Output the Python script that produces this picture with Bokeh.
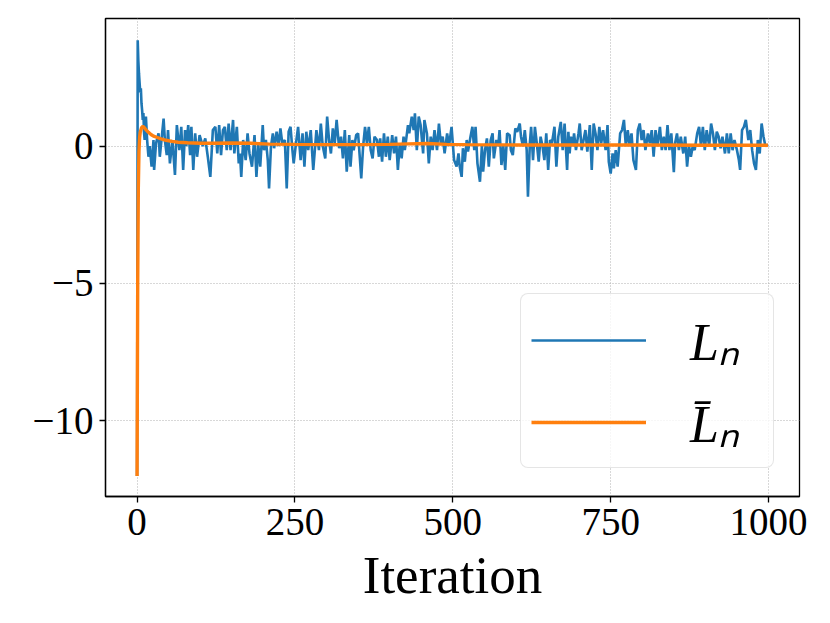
from bokeh.plotting import figure
from bokeh.models import (FixedTicker, CustomJSTickFormatter, Legend, LegendItem, Range1d)
from bokeh.embed import file_html
from bokeh.resources import INLINE

# ---- data ----
iters = [0, 1, 2, 3, 4, 5, 6, 7, 8, 9, 10, 11, 12, 14, 16, 18, 20, 23, 26, 27, 30, 34, 36, 39,
         42, 44, 47, 49, 52, 56, 60, 63, 67, 70, 73, 76, 78, 81, 84, 86, 89, 92, 95, 99, 104,
         108, 112, 116, 120, 124, 127, 130, 133, 136, 139, 142, 145, 148, 152, 154, 158, 161,
         163, 165, 168, 172, 175, 178, 182, 186, 189, 192, 195, 199, 201, 204, 207, 209, 212,
         215, 217, 221, 224, 227, 230, 234, 237, 240, 243, 246, 248, 252, 255, 259, 262, 265,
         268, 271, 275, 279, 282, 284, 288, 291, 294, 298, 301, 304, 307, 310, 313, 316, 320,
         323, 326, 329, 332, 336, 338, 341, 343, 347, 350, 353, 355, 358, 361, 364, 367, 370,
         373, 376, 380, 383, 385, 388, 391, 394, 397, 400, 404, 407, 410, 413, 416, 419, 422,
         424, 429, 431, 435, 438, 440, 443, 446, 449, 453, 455, 459, 462, 465, 468, 471, 475,
         478, 481, 484, 487, 491, 494, 498, 502, 506, 509, 511, 514, 516, 519, 522, 524, 528,
         531, 534, 536, 539, 543, 546, 548, 551, 554, 557, 560, 563, 565, 569, 572, 574, 577,
         580, 583, 586, 590, 592, 595, 599, 602, 606, 608, 611, 614, 617, 619, 622, 624, 627,
         630, 633, 636, 639, 642, 645, 648, 651, 654, 657, 661, 664, 667, 671, 674, 677, 681,
         683, 685, 687, 690, 692, 695, 699, 701, 704, 707, 710, 713, 717, 720, 723, 726, 729,
         732, 735, 738, 742, 745, 747, 750, 753, 755, 758, 761, 765, 768, 771, 774, 777, 780,
         783, 786, 790, 793, 796, 799, 802, 805, 809, 812, 815, 818, 821, 824, 828, 831, 834,
         837, 840, 843, 846, 850, 852, 855, 858, 861, 865, 868, 871, 874, 877, 880, 883, 887,
         890, 893, 896, 899, 902, 906, 909, 912, 915, 918, 921, 924, 927, 931, 934, 937, 940,
         943, 946, 950, 953, 955, 958, 961, 964, 968, 971, 974, 977, 980, 983, 986, 989, 992,
         995, 999]
loss = [-12.0, 3.85, 3.1, 2.65, 2.3, 1.95, 2.1, 1.55, 1.3, 0.95, 1.2, 0.5, 0.22, 1.07, 0.2, -0.39,
        0.0, -0.75, 0.22, -0.87, 0.1, 0.46, -0.39, 0.3, 1.0, 0.22, -0.33, 0.58, -0.63, 0.22,
        -1.05, 0.76, -0.15, 0.7, -0.87, 0.58, 0.0, 0.76, -0.33, 0.7, -0.87, 0.46, -0.39, 0.4,
        0.0, 0.28, -0.39, -1.12, 0.58, 0.7, -0.27, 0.76, -0.33, 0.58, 0.7, -0.15, 0.82, -0.15,
        0.95, -0.27, 0.7, -0.63,
        -0.27, -1.12, 0.22, -0.51, 0.46, -0.27, -0.75, 0.4, -1.12, 0.04, -0.75, 0.76, -0.15,
        0.22, -0.51, -1.54, -0.02, 0.46, -0.08, 0.52, 0.0, 0.64, 0.1, 0.22, -1.54, 0.52, 0.7,
        -0.15, -0.63, 0.16, 0.7, -0.51, 0.46, -0.75, 0.52, -0.15, 0.58, -0.87, 0.0, 0.58,
        -0.15, 0.82, 0.0, -0.45, 1.07, 0.22, -0.27, 0.64, 0.1, 0.95, -0.08, 0.34, -0.45, 0.58,
        -0.93, 0.4, -0.75, 0.22, -0.15, 0.4, 0.46, -0.51, -1.18, 0.0, 0.7, 0.1, 0.7, -0.15,
        -0.45, 0.34, 0.22, -0.39, 0.28, -0.57, 0.46, -0.39, 0.34, -0.51, 0.4, -0.27, 0.34,
        -0.87, 0.1, -0.45, 0.34, -0.15, 0.76, 0.46, 1.07, 0.58, 1.19, -0.15, 1.07, 0.76, -0.27,
        0.95, 0.46, -0.63, 0.34, -0.15, 0.58, -0.15, 0.82, 0.1, 0.34, -0.27, 0.46, 0.0, 0.7,
        -0.51, -0.75, -0.27, -0.75, -1.12, -0.08, -0.57, 0.22, -0.2, 0.34, 0.7, -0.15, 0.7,
        -0.63, -1.3, 0.0, -0.93, -0.15, 0.28, -0.75, 0.22, 0.46, -0.45, 0.22, 0.0, 0.58, -0.69,
        0.0, -0.87, 0.46, 0.4, -0.15, -0.33, 0.64, 0.52, 0.82, 0.34, 0.0, 0.58, -0.15, -1.84,
        0.1, 0.7, -0.51, 0.7, 0.1, -0.57, 0.34, 0.0, -0.51, 0.46, -0.87, 0.22, 0.1, 0.7, -0.75,
        0.34, 0.88, -0.15, 0.82, -0.87, 0.52, -0.27, 0.34, 0.0, 0.46, -0.15, 0.46, 0.82, -0.15,
        0.22, 0.58, -0.2, 0.76, -0.87, 0.82, 0.46, -0.15, 0.7, 0.1, 0.58, -0.15, 0.76, -0.57,
        -1.0, -0.27, -0.81, -0.15, -0.75, 0.46, 0.58, 0.95, 0.0, 0.58, 0.0, 0.46, -0.51, -0.87,
        0.58, 0.82, 0.22, 0.58, -0.15, 0.46, 0.1, 0.58, -0.39, 0.58, 0.0, 0.7, -0.15, 0.34,
        -0.15, 0.76, -0.15, 0.46, -0.95, 0.1, 0.46, -0.15, 0.34, -0.27, 0.34, -0.75, 0.0, -0.39,
        0.0, -0.15, 0.46, 0.7, 0.0, 0.7, -0.15, 0.58, 0.0, 0.82, 0.46, -0.15, 0.52, 0.34, -0.08,
        0.34, -0.27, 0.46, -0.27, 0.46, -0.15, 0.22, -0.15, -0.51, -0.87, 0.58, 0.7, 0.95, 0.22,
        0.58, -0.15, -0.63, -0.87, 0.22, -0.27, 0.82, 0.34, 0.0, 0.05]

avg_iters = [0, 1, 2, 3, 4, 5, 7, 9, 11, 14, 18, 22, 26, 31, 38, 46, 55, 65, 80, 100, 120, 150,
             180, 210, 250, 300, 350, 400, 430, 460, 490, 520, 600, 700, 800, 900, 999]
avg_loss = [-12.0, -5.0, -1.5, -0.2, 0.3, 0.5, 0.66, 0.72, 0.68, 0.6, 0.5, 0.42, 0.36, 0.32,
            0.26, 0.21, 0.17, 0.14, 0.12, 0.1, 0.1, 0.11, 0.1, 0.07, 0.06, 0.05, 0.05, 0.06,
            0.08, 0.09, 0.06, 0.05, 0.04, 0.04, 0.04, 0.03, 0.03]

x_ticks = [0, 250, 500, 750, 1000]
y_ticks = [-10, -5, 0]
series_labels = ["L\u2099", "L\u0304\u2099"]
x_label = "Iteration"

BLUE = "#1f77b4"
ORANGE = "#ff7f0e"
FONT = "Liberation Serif"

p = figure(frame_width=694, frame_height=478, output_backend="svg", toolbar_location=None,
           x_range=Range1d(-50, 1049), y_range=Range1d(-12.75, 4.64),
           min_border_left=105, min_border_top=18, min_border_right=15, min_border_bottom=105)

p.background_fill_color = "white"
p.border_fill_color = "white"
p.outline_line_color = "black"
p.outline_line_width = 1.3

r1 = p.line(iters, loss, line_color=BLUE, line_width=2.6)
r2 = p.line(avg_iters, avg_loss, line_color=ORANGE, line_width=3.4)

p.xaxis.ticker = FixedTicker(ticks=x_ticks)
p.yaxis.ticker = FixedTicker(ticks=y_ticks)
p.xgrid.ticker = FixedTicker(ticks=x_ticks)
p.ygrid.ticker = FixedTicker(ticks=y_ticks)
p.yaxis.formatter = CustomJSTickFormatter(code="return tick < 0 ? '\\u2212' + (-tick) : String(tick);")

for g in (p.xgrid, p.ygrid):
    g.grid_line_color = "#b0b0b0"
    g.grid_line_dash = "1 2"
    g.grid_line_width = 1

for ax in (p.xaxis, p.yaxis):
    ax.axis_line_color = "black"
    ax.axis_line_width = 1.3
    ax.major_tick_line_color = "black"
    ax.major_tick_line_width = 1.3
    ax.major_tick_out = 6
    ax.major_tick_in = 0
    ax.minor_tick_line_color = None
    ax.major_label_text_font = FONT
    ax.major_label_text_font_size = "39px"
    ax.major_label_text_color = "black"
    ax.major_label_standoff = 6

p.xaxis.axis_label = x_label
p.xaxis.axis_label_text_font = FONT
p.xaxis.axis_label_text_font_size = "53px"
p.xaxis.axis_label_text_font_style = "normal"
p.xaxis.axis_label_text_color = "black"
p.xaxis.axis_label_standoff = 8

legend_kwargs = dict(
    items=[LegendItem(label=series_labels[0], renderers=[r1]),
           LegendItem(label=series_labels[1], renderers=[r2])],
    location=(415, 28),
    glyph_width=115, glyph_height=40, label_standoff=44, label_width=73,
    spacing=11, padding=10, margin=0,
    label_text_font=FONT, label_text_font_style="italic", label_text_font_size="52px",
    label_text_color="black",
    border_line_color="#cccccc", border_line_width=1.5,
    background_fill_color="white", background_fill_alpha=0.8,
)
if "border_radius" in Legend.properties():
    legend_kwargs["border_radius"] = 8
legend = Legend(**legend_kwargs)
p.add_layout(legend)

open("out.html", "w").write(file_html(p, INLINE))
